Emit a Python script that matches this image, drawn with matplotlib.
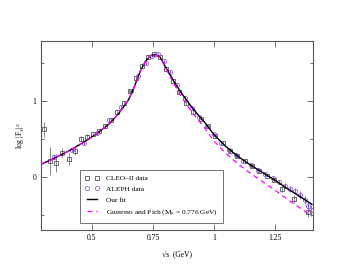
import matplotlib
matplotlib.use("Agg")
import matplotlib.pyplot as plt
from matplotlib.ticker import FixedLocator

plt.rcParams['font.family'] = ['Liberation Serif', 'DejaVu Serif']
plt.rcParams['mathtext.fontset'] = 'custom'
plt.rcParams['mathtext.rm'] = 'Liberation Serif'
plt.rcParams['mathtext.it'] = 'Liberation Serif:italic'

# Our fit (black)
fit_x = [0.29, 0.33, 0.37, 0.41, 0.45, 0.49, 0.53, 0.57, 0.61, 0.65, 0.67, 0.69, 0.70, 0.72,
         0.74, 0.76, 0.78, 0.80, 0.82, 0.84, 0.86, 0.88, 0.90, 0.93, 0.96, 1.00, 1.05,
         1.10, 1.15, 1.20, 1.25, 1.30, 1.35, 1.40]
fit_y = [0.17, 0.225, 0.29, 0.355, 0.43, 0.51, 0.60, 0.70, 0.84, 1.02, 1.16, 1.33, 1.41, 1.53,
         1.60, 1.618, 1.58, 1.46, 1.35, 1.24, 1.14, 1.05, 0.96, 0.84, 0.73, 0.56, 0.40,
         0.27, 0.16, 0.06, -0.04, -0.15, -0.25, -0.355]

# Guerrero and Pich (magenta dashed)
gp_x = [0.29, 0.33, 0.37, 0.41, 0.45, 0.49, 0.53, 0.57, 0.61, 0.65, 0.67, 0.69, 0.70, 0.72,
        0.74, 0.76, 0.78, 0.80, 0.82, 0.84, 0.86, 0.88, 0.90, 0.93, 0.96, 1.00, 1.05,
        1.10, 1.15, 1.20, 1.25, 1.30, 1.35, 1.40]
gp_y = [0.17, 0.225, 0.29, 0.355, 0.43, 0.51, 0.60, 0.70, 0.84, 1.02, 1.16, 1.33, 1.41, 1.53,
        1.60, 1.618, 1.575, 1.45, 1.325, 1.205, 1.095, 0.995, 0.90, 0.775, 0.655, 0.475, 0.31,
        0.17, 0.05, -0.06, -0.17, -0.29, -0.40, -0.51]

# CLEO-II data (squares)
cleo_x = [0.305, 0.330, 0.355, 0.380, 0.405, 0.430, 0.455, 0.480, 0.505, 0.530, 0.555,
          0.580, 0.605, 0.630, 0.655, 0.680, 0.705, 0.730, 0.755, 0.780, 0.805, 0.830,
          0.855, 0.885, 0.915, 0.945, 0.975, 1.005, 1.035, 1.065, 1.095, 1.125, 1.155,
          1.185, 1.215, 1.245, 1.276, 1.328, 1.385]
cleo_y = [0.63, 0.215, 0.19, 0.325, 0.24, 0.35, 0.51, 0.535, 0.565, 0.61, 0.68,
          0.76, 0.86, 0.98, 1.13, 1.31, 1.47, 1.58, 1.62, 1.58, 1.43, 1.27,
          1.12, 0.975, 0.865, 0.77, 0.67, 0.55, 0.45, 0.35, 0.28, 0.21, 0.15,
          0.09, 0.02, -0.03, -0.158, -0.286, -0.45]
cleo_e = [0.10, 0.18, 0.12, 0.06, 0.08, 0.05, 0.03, 0.03, 0.02, 0.02, 0.02,
          0.02, 0.02, 0.02, 0.02, 0.02, 0.02, 0.02, 0.02, 0.02, 0.02, 0.02,
          0.02, 0.02, 0.02, 0.02, 0.02, 0.02, 0.02, 0.02, 0.02, 0.02, 0.02,
          0.02, 0.02, 0.03, 0.04, 0.05, 0.07]

# ALEPH data (circles)
aleph_x = [0.345, 0.420, 0.470, 0.520, 0.570, 0.620, 0.660, 0.690, 0.720, 0.745, 0.770,
           0.795, 0.820, 0.850, 0.880, 0.910, 0.940, 0.970, 1.000, 1.030, 1.060, 1.090,
           1.120, 1.150, 1.180, 1.210, 1.240, 1.265, 1.290, 1.310, 1.330, 1.350, 1.370,
           1.385, 1.395]
aleph_y = [0.27, 0.36, 0.45, 0.58, 0.75, 0.93, 1.14, 1.33, 1.50, 1.60, 1.62,
           1.53, 1.39, 1.21, 1.05, 0.91, 0.79, 0.68, 0.57, 0.45, 0.36, 0.29,
           0.22, 0.16, 0.10, 0.05, -0.01, -0.06, -0.11, -0.15, -0.18, -0.23, -0.30,
           -0.38, -0.43]
aleph_e = [0.04, 0.03, 0.02, 0.02, 0.02, 0.02, 0.02, 0.02, 0.02, 0.02, 0.02,
           0.02, 0.02, 0.02, 0.02, 0.02, 0.02, 0.02, 0.02, 0.02, 0.02, 0.02,
           0.02, 0.02, 0.02, 0.02, 0.02, 0.03, 0.03, 0.04, 0.04, 0.05, 0.05,
           0.06, 0.07]

x_ticks = [0.5, 0.75, 1.0, 1.25]
x_labels = ['0.5', '0.75', '1', '1.25']
y_ticks = [0, 1]
y_labels = ['0', '1']

fig = plt.figure(figsize=(3.52, 2.72), dpi=100)
ax = fig.add_axes([0.1156, 0.1533, 0.7726, 0.6967])

purple = '#8f5fd8'
gray = '#555555'

ax.errorbar(cleo_x, cleo_y, yerr=cleo_e, fmt='none', ecolor='#888888', elinewidth=0.7, zorder=2)
ax.errorbar(aleph_x, aleph_y, yerr=aleph_e, fmt='none', ecolor=purple, elinewidth=0.7, zorder=2)
l_cleo, = ax.plot(cleo_x, cleo_y, 's', ms=2.8, mfc='none', mec=gray, mew=0.6, zorder=3,
                  label='CLEO\u2013II data')
l_aleph, = ax.plot(aleph_x, aleph_y, 'o', ms=3.0, mfc='none', mec=purple, mew=0.6, zorder=3,
                   label='ALEPH data')
l_fit, = ax.plot(fit_x, fit_y, '-', color='black', lw=1.0, zorder=4, label='Our fit')
l_gp, = ax.plot(gp_x, gp_y, '--', color='#ff00ff', lw=0.9, dashes=(4, 3), zorder=4,
                label=r'Guerrero and Pich (M$_\rho$ = 0.776 GeV)')

ax.set_xlim(0.291, 1.403)
ax.set_ylim(-0.697, 1.797)

ax.xaxis.set_major_locator(FixedLocator(x_ticks))
ax.set_xticklabels(x_labels)
ax.yaxis.set_major_locator(FixedLocator(y_ticks))
ax.set_yticklabels(y_labels)
ax.yaxis.set_minor_locator(FixedLocator([-0.5, 0.5, 1.5]))
ax.tick_params(which='both', direction='in', top=True, right=True, labelsize=5.5,
               color=gray, width=0.6, pad=3)
ax.tick_params(which='major', length=4)
ax.tick_params(which='minor', length=2.2)
for s in ax.spines.values():
    s.set_color(gray)
    s.set_linewidth(0.8)

ax.set_xlabel('\u221as  (GeV)', fontsize=5.5, labelpad=6)
ax.set_ylabel(r'log |F$_V$|$^2$', fontsize=5.5, labelpad=4)

leg = ax.legend(handles=[l_cleo, l_aleph, l_fit, l_gp], loc='lower left',
                bbox_to_anchor=(0.1445, 0.0385), borderaxespad=0, numpoints=2, fontsize=5.3,
                frameon=True, fancybox=False, edgecolor='#333333', handlelength=1.9,
                handletextpad=1.0, borderpad=0.7, labelspacing=0.6)
leg.get_frame().set_linewidth(0.6)

fig.savefig('out.png', dpi=100)
